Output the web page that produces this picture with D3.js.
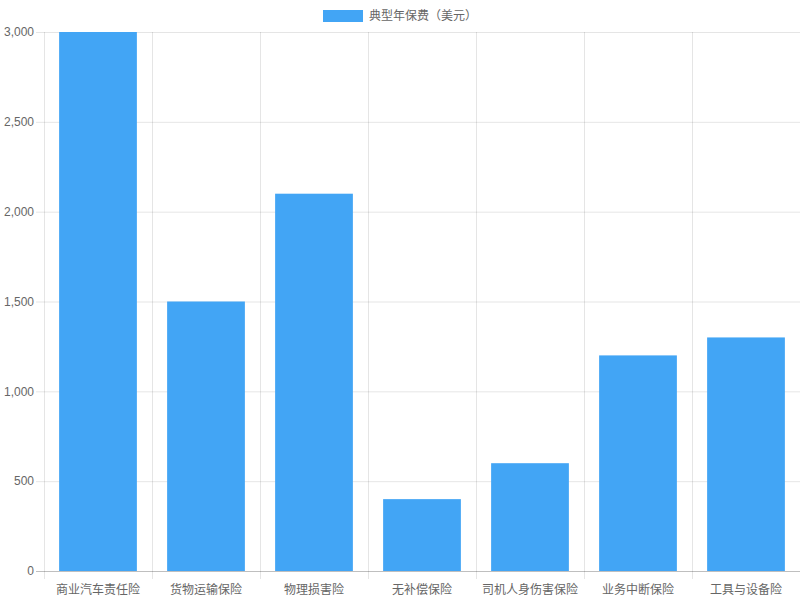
<!DOCTYPE html>
<html><head><meta charset="utf-8">
<script src="https://cdn.jsdelivr.net/npm/d3@7"></script>
<style>
html,body{margin:0;padding:0;background:#fff;}
text{font-family:"Liberation Sans","Noto Sans CJK SC",sans-serif;}
</style></head>
<body>
<svg id="chart" width="800" height="600"></svg>
<script>
const categories = ["商业汽车责任险","货物运输保险","物理损害险","无补偿保险","司机人身伤害保险","业务中断保险","工具与设备险"];
const premiums = [3000, 1500, 2100, 400, 600, 1200, 1300];
const yTicks = [0, 500, 1000, 1500, 2000, 2500, 3000];
const seriesName = "典型年保费（美元）";

const svg = d3.select("#chart");
const mLeft = 44, mRight = 800, mTop = 32, mBottom = 571;
const x = d3.scaleBand().domain(categories).range([mLeft, mRight]).paddingInner(0).paddingOuter(0);
const y = d3.scaleLinear().domain([0, 3000]).range([mBottom, mTop]);
const grid = "rgba(0,0,0,0.1)";

// horizontal gridlines
svg.append("g").selectAll("line").data(yTicks).join("line")
  .attr("x1", mLeft - 8).attr("x2", mRight)
  .attr("y1", d => y(d) + 0.5).attr("y2", d => y(d) + 0.5)
  .attr("stroke", d => d === 0 ? "rgba(0,0,0,0.25)" : grid);

// vertical gridlines (category boundaries)
const bounds = categories.map(c => x(c)).concat([mRight]);
svg.append("g").selectAll("line").data(bounds).join("line")
  .attr("x1", d => Math.round(d) + 0.5).attr("x2", d => Math.round(d) + 0.5)
  .attr("y1", mTop).attr("y2", mBottom + 8)
  .attr("stroke", grid);

// y labels
svg.append("g").selectAll("text").data(yTicks).join("text")
  .attr("x", mLeft - 10).attr("y", d => y(d))
  .attr("dy", "0.35em").attr("text-anchor", "end")
  .attr("font-size", 12).attr("fill", "#666")
  .text(d => d3.format(",")(d));

// x labels
svg.append("g").selectAll("text").data(categories).join("text")
  .attr("x", d => x(d) + x.bandwidth() / 2).attr("y", mBottom + 19)
  .attr("dy", "0.35em").attr("text-anchor", "middle")
  .attr("font-size", 12).attr("fill", "#666")
  .text(d => d);

// bars
const bw = x.bandwidth() * 0.72;
svg.append("g").selectAll("rect").data(premiums).join("rect")
  .attr("x", (d, i) => x(categories[i]) + (x.bandwidth() - bw) / 2)
  .attr("width", bw)
  .attr("y", d => y(d))
  .attr("height", d => y(0) - y(d))
  .attr("fill", "#42A5F5");

// legend
const lg = svg.append("g");
lg.append("rect").attr("x", 323).attr("y", 10).attr("width", 40).attr("height", 12).attr("fill", "#42A5F5");
lg.append("text").attr("x", 369).attr("y", 16).attr("dy", "0.35em")
  .attr("font-size", 12).attr("fill", "#666").text(seriesName);
</script>
</body></html>
